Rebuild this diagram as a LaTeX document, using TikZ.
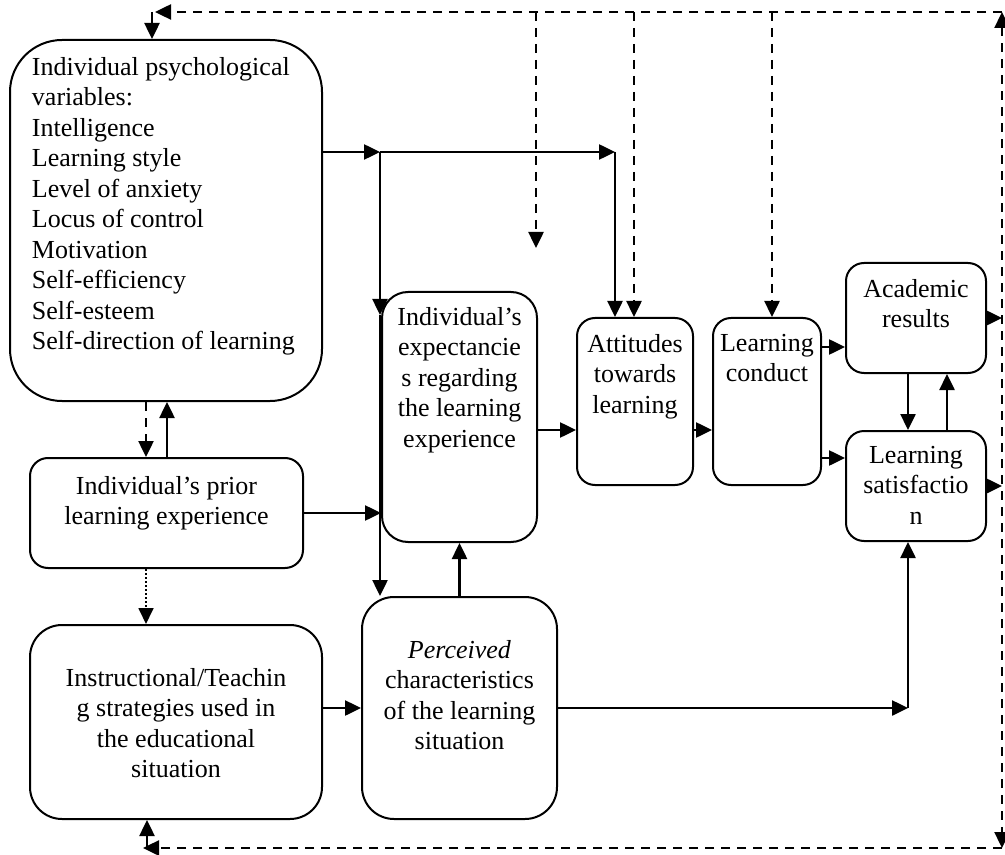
\documentclass[tikz,border=0pt]{standalone}
\usepackage{fontspec}
\setmainfont{Liberation Serif}
\usetikzlibrary{arrows.meta}

% text block of a box: width, height, space above the first line, text
\newcommand{\boxtxt}[4]{\parbox[c][#2][t]{#1}{\centering\vspace{#3}#4}}

\begin{document}
\begin{tikzpicture}[
            x = 0.5pt, y = -0.5pt, % one unit = one pixel of the sketch
            > = {Triangle[length=8pt, width=7.5pt]}, % arrow head style
            line width = 1.25pt, % line style
            font = \fontsize{13}{15.25}\selectfont
        ]

        \tikzstyle{block}=[
            draw = black,
            line width = 1pt,
            inner sep = 0pt,
            rounded corners = 9pt
        ]
        \tikzstyle{feedback}=[
            dash pattern = on 4.5pt off 3.5pt
        ]
        \tikzstyle{prior link}=[
            line width = 0.9pt,
            dash pattern = on 0.8pt off 1.2pt
        ]

        \useasboundingbox (0,0) rectangle (1005,855);

	% boxes
	\node[block, rounded corners=26pt] (psych) at (166,220.5)
	    {\parbox[c][180.5pt][t]{156pt}{\raggedright\leftskip=11pt\vspace{8.6pt}Individual psychological\\variables:\\Intelligence\\Learning style\\Level of anxiety\\Locus of control\\Motivation\\Self-efficiency\\Self-esteem\\Self-direction of learning}};
	\node[block] (prior) at (166.5,513)
	    {\boxtxt{136.5pt}{55pt}{9.1pt}{Individual’s prior\\learning experience}};
	\node[block, rounded corners=16pt] (instr) at (176,722)
	    {\boxtxt{146pt}{97pt}{21.6pt}{Instructional/Teachin\\g strategies used in\\the educational\\situation}};
	\node[block, rounded corners=13pt] (expect) at (459.5,417)
	    {\boxtxt{77.5pt}{125pt}{7.6pt}{Individual’s\\expectancie\\s regarding\\the learning\\experience}};
	\node[block, rounded corners=16pt] (percv) at (459.5,708)
	    {\boxtxt{97.5pt}{111pt}{21.6pt}{\textit{Perceived}\\characteristics\\of the learning\\situation}};
	\node[block] (attit) at (635,401.5)
	    {\boxtxt{58pt}{83.5pt}{8.1pt}{Attitudes\\towards\\learning}};
	\node[block] (cond) at (767,401.5)
	    {\boxtxt{54pt}{83.5pt}{8.1pt}{Learning\\conduct}};
	\node[block] (results) at (916,318)
	    {\boxtxt{70pt}{55pt}{8.1pt}{Academic\\results}};
	\node[block] (satis) at (916,486)
	    {\boxtxt{70pt}{55pt}{7.6pt}{Learning\\satisfactio\\n}};

	% junctions of the solid lines
	\coordinate (j1) at (380,152);
	\coordinate (j2) at (615,152);
	\coordinate (j3) at (380,315);
	\coordinate (j4) at (908,708);

	% ends of the feedback loop
	\coordinate (fbTL) at (155,12);
	\coordinate (fbTR) at (1002,12);
	\coordinate (fbBR) at (1002,848);
	\coordinate (fbBL) at (143,848);
	\coordinate (fbA) at (152,12);
	\coordinate (fbC) at (147,848);
	\coordinate (fb1) at (536,12);
	\coordinate (fb1end) at (536,248);
	\coordinate (fb2) at (634,12);
	\coordinate (fb3) at (772,12);

	% solid connectors
	\draw[->] (psych.east |- j1) -- (j1);
	\draw[->] (j1) -- (j2);
	\draw[->] (j2) -- (j2 |- attit.north);
	\draw[->] (j1) -- (j3);
	\draw[->] (j3) -- (j3 |- percv.north);
	\draw[->] (prior.east) -- (prior.east -| expect.west);
	\draw[->] (percv.north) -- (expect.south);
	\draw[->] (instr.east |- percv.west) -- (percv.west);
	\draw[->] (expect.east |- 0,430) -- (attit.west |- 0,430);
	\draw[->] (attit.east |- 0,430) -- (cond.west |- 0,430);
	\draw[->] (cond.east |- 0,347) -- (results.west |- 0,347);
	\draw[->] (cond.east |- 0,458) -- (satis.west |- 0,458);
	\draw[->] (results.south -| 908,0) -- (satis.north -| 908,0);
	\draw[->] (satis.north -| 947,0) -- (results.south -| 947,0);
	\draw[->] (percv.east) -- (j4);
	\draw[->] (j4) -- (j4 |- satis.south);
	\draw[->] (prior.north -| 167,0) -- (psych.south -| 167,0);
	\draw[feedback, ->] (psych.south -| 146,0) -- (prior.north -| 146,0);
	\draw[prior link, ->] (prior.south -| 146,0) -- (instr.north -| 146,0);

	% feedback loop
	\draw[->] (results.east) -- (results.east -| fbTR);
	\draw[->] (satis.east) -- (satis.east -| fbTR);
	\draw[feedback, <->] (fbTR) -- (fbBR);
	\draw[feedback, ->] (fbTR) -- (fbTL);
	\draw[feedback, ->] (fbBR) -- (fbBL);
	\draw[->] (fbA) -- (fbA |- psych.north);
	\draw[->] (fbC) -- (fbC |- instr.south);
	\draw[feedback, ->] (fb1) -- (fb1end);
	\draw[feedback, ->] (fb2) -- (fb2 |- attit.north);
	\draw[feedback, ->] (fb3) -- (fb3 |- cond.north);

\end{tikzpicture}
\end{document}
